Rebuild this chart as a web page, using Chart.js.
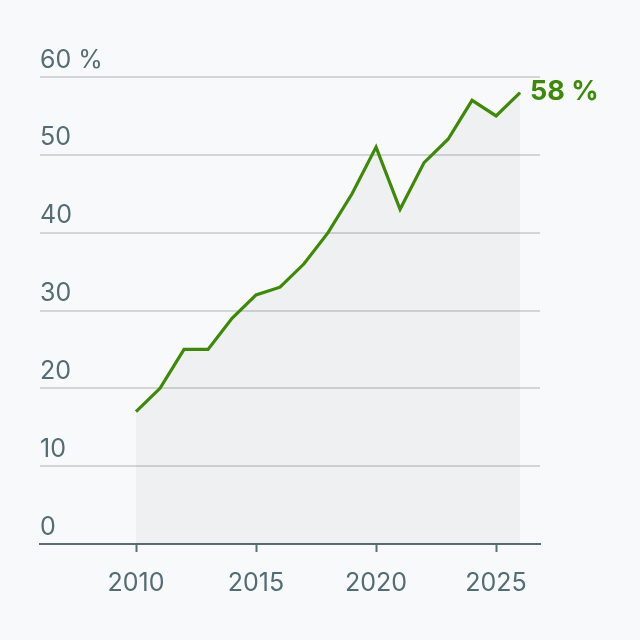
<!DOCTYPE html>
<html>
<head>
<meta charset="utf-8">
<script src="https://cdn.jsdelivr.net/npm/chart.js@4/dist/chart.umd.min.js"></script>
<style>
  html, body { margin: 0; padding: 0; background: #f8f9fa; }
  #wrap { width: 640px; height: 640px; }
</style>
</head>
<body>
<div id="wrap"><canvas id="chart" width="640" height="640"></canvas></div>
<script>
// dados do gráfico
const years = [2010, 2011, 2012, 2013, 2014, 2015, 2016, 2017, 2018, 2019, 2020, 2021, 2022, 2023, 2024, 2025, 2026];
const values = [17, 20, 25, 25, 29, 32, 33, 36, 40, 45, 51, 43, 49, 52, 57, 55, 58];
const xTicks = [2010, 2015, 2020, 2025];
const yTicks = [0, 10, 20, 30, 40, 50, 60];

const textColor = '#546d74';
const green = '#3c8a06';

// rótulo do último valor
const endLabel = {
    id: 'endLabel',
    afterDatasetsDraw(chart) {
        const meta = chart.getDatasetMeta(0);
        const last = meta.data[meta.data.length - 1];
        const ctx = chart.ctx;
        ctx.save();
        ctx.font = 'bold 27px Inter';
        ctx.fillStyle = green;
        ctx.textAlign = 'left';
        ctx.textBaseline = 'middle';
        ctx.fillText(values[values.length - 1] + ' %', last.x + 10, last.y - 1);
        ctx.restore();
    }
};

const ctx = document.getElementById('chart').getContext('2d');
new Chart(ctx, {
    type: 'line',
    data: {
        datasets: [{
            data: years.map((y, i) => ({ x: y, y: values[i] })),
            borderColor: green,
            borderWidth: 3.2,
            pointRadius: 0,
            tension: 0,
            fill: 'origin',
            backgroundColor: 'rgba(0, 0, 0, 0.035)'
        }]
    },
    options: {
        responsive: false,
        animation: false,
        layout: { padding: { left: 40, right: 100, top: 77, bottom: 26 } },
        plugins: { legend: { display: false }, tooltip: { enabled: false } },
        scales: {
            x: {
                type: 'linear',
                min: 2006,
                max: 2026.83,
                afterBuildTicks: axis => { axis.ticks = xTicks.map(v => ({ value: v })); },
                grid: { drawOnChartArea: false, tickLength: 8, color: '#56706d', tickWidth: 2 },
                border: { color: '#56706d', width: 2 },
                ticks: {
                    color: textColor,
                    font: { family: 'Inter', size: 25 },
                    padding: 16,
                    maxRotation: 0,
                    callback: v => String(v)
                }
            },
            y: {
                min: 0,
                max: 60,
                afterBuildTicks: axis => { axis.ticks = yTicks.map(v => ({ value: v })); },
                border: { display: false },
                grid: {
                    drawTicks: false,
                    lineWidth: 2,
                    color: c => c.tick && c.tick.value === 0 ? 'rgba(0,0,0,0)' : '#d2d6d6'
                },
                ticks: {
                    mirror: true,
                    padding: 0,
                    labelOffset: -17,
                    color: textColor,
                    font: { family: 'Inter', size: 25 },
                    callback: v => v === 60 ? '60 %' : String(v)
                }
            }
        }
    },
    plugins: [endLabel]
});
</script>
</body>
</html>
